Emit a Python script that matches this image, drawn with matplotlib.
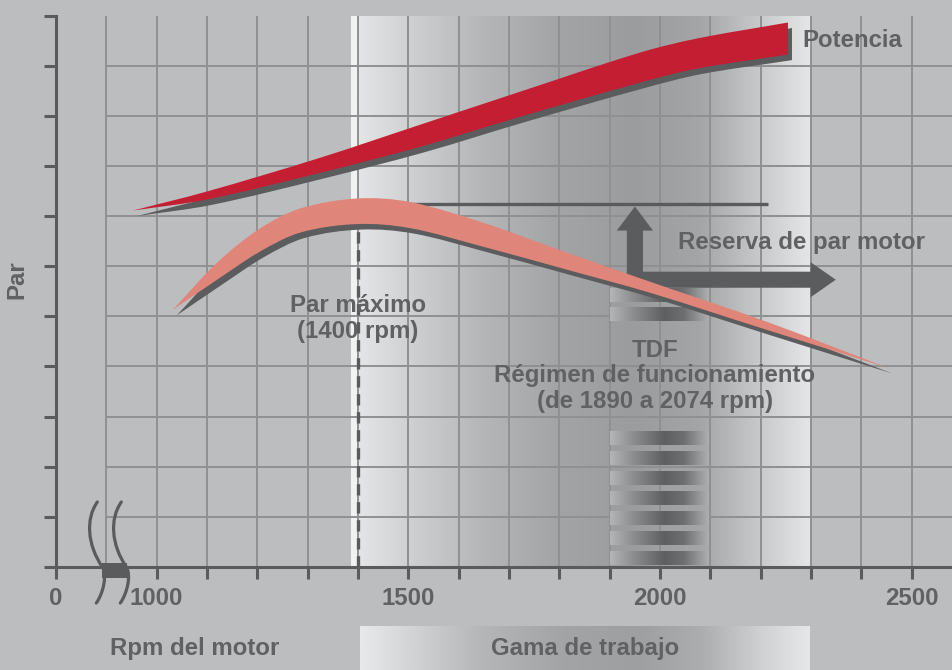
import numpy as np
import matplotlib
matplotlib.use("Agg")
import matplotlib.pyplot as plt
from matplotlib.path import Path
from matplotlib.patches import PathPatch, FancyArrow, Rectangle
from matplotlib.colors import LinearSegmentedColormap

plt.rcParams["font.family"] = ["Liberation Sans", "DejaVu Sans"]
plt.rcParams["font.weight"] = "bold"

# --- values (rpm, relative units) ---
POWER_RPM = [953, 1100, 1324, 1523, 1722, 1960, 2073, 2254]
POWER_TOP = [7.11, 7.49, 8.16, 8.82, 9.48, 10.26, 10.54, 10.86]
POWER_BOTTOM = [7.11, 7.33, 7.86, 8.38, 8.98, 9.66, 9.94, 10.22]

TORQUE_RPM = [1032, 1120, 1205, 1285, 1398, 1503, 1648, 1815, 1980, 2212, 2453]
TORQUE_TOP = [5.13, 6.07, 6.75, 7.15, 7.35, 7.28, 6.87, 6.27, 5.69, 4.89, 3.97]
TORQUE_BOTTOM = [5.13, 5.73, 6.29, 6.67, 6.84, 6.76, 6.39, 5.93, 5.47, 4.73, 3.97]

MAX_TORQUE_RPM = 1400
RESERVE_LEVEL = 7.25
RESERVE_END = 2214
WORK_RANGE = (1387, 2300)
TDF_RANGE = (1900, 2095)
TDF_STRIPES = [0.04, 0.44, 0.84, 1.24, 1.64, 2.04, 2.44, 4.91, 5.29]

X_ZERO = 800          # where the broken axis shows "0"
X_TICKS = [X_ZERO] + list(range(1000, 2501, 100))
X_LABELS = {X_ZERO: "0", 1000: "1000", 1500: "1500", 2000: "2000", 2500: "2500"}
Y_TICKS = list(range(0, 12))

# --- style ---
BG = "#bcbdbf"
GRID = "#8f9092"
AXIS = "#5a5b5d"
TEXT = "#606163"
RED = "#c41e33"
SALMON = "#e0857a"
SHADOW = "#5b5c5e"
FS = 17.3

W, H = 953, 670
PX_PER_RPM = 0.5034
XMAX = X_ZERO + 897 / PX_PER_RPM
YMAX = 11.0

zone_cmap = LinearSegmentedColormap.from_list("zone", [
    (0.0, "#f1f2f2"), (0.013, "#f1f2f2"), (0.0145, "#e4e5e6"),
    (0.124, "#d0d1d2"), (0.277, "#b6b7b9"), (0.452, "#a3a4a6"),
    (0.617, "#9b9c9e"), (0.759, "#a4a5a7"), (0.89, "#c8c9cb"),
    (1.0, "#e5e6e7")])
bar_cmap = LinearSegmentedColormap.from_list("bar", [
    (0.0, "#e8e9ea"), (0.27, "#b5b6b8"), (0.45, "#a3a4a6"),
    (0.62, "#9e9fa1"), (0.76, "#acadaf"), (0.89, "#cfd0d1"),
    (1.0, "#e6e7e8")])
stripe_cmap = LinearSegmentedColormap.from_list("stripe", [
    (0.0, "#b4b5b7"), (0.25, "#8a8b8d"), (0.55, "#5e5f61"),
    (0.75, "#6e6f71"), (1.0, "#aeafb1")])
ramp = np.linspace(0, 1, 512)[None, :]


def smooth_path(xs, ys):
    """Cubic Hermite curve through the points (x monotone), as bezier segments."""
    x = np.asarray(xs, float)
    y = np.asarray(ys, float)
    n = len(x)
    m = np.empty(n)
    m[1:-1] = (y[2:] - y[:-2]) / (x[2:] - x[:-2])
    m[0] = (y[1] - y[0]) / (x[1] - x[0])
    m[-1] = (y[-1] - y[-2]) / (x[-1] - x[-2])
    verts, codes = [(x[0], y[0])], [Path.MOVETO]
    for i in range(n - 1):
        h = (x[i + 1] - x[i]) / 3
        verts += [(x[i] + h, y[i] + m[i] * h),
                  (x[i + 1] - h, y[i + 1] - m[i + 1] * h),
                  (x[i + 1], y[i + 1])]
        codes += [Path.CURVE4] * 3
    return verts, codes


def band(xs, top, bottom, dx=0.0, dy=0.0):
    xs = np.asarray(xs, float) + dx
    v1, c1 = smooth_path(xs, np.asarray(top) + dy)
    v2, c2 = smooth_path(xs[::-1], np.asarray(bottom)[::-1] + dy)
    c2[0] = Path.LINETO
    verts = v1 + v2 + [v1[0]]
    codes = c1 + c2 + [Path.CLOSEPOLY]
    return Path(verts, codes)


fig = plt.figure(figsize=(W / 100, H / 100), dpi=100)
fig.patch.set_facecolor(BG)
ax = fig.add_axes([56 / W, 103 / H, 897 / W, 551.5 / H])
ax.set_facecolor(BG)

# working range gradient
ax.imshow(ramp, cmap=zone_cmap, aspect="auto", interpolation="bilinear",
          extent=[WORK_RANGE[0], WORK_RANGE[1], 0, YMAX], zorder=1)

# grid (starts after the axis break)
ax.vlines(range(900, 2501, 100), 0, YMAX, color=GRID, lw=1.4, zorder=2)
ax.hlines(range(1, 11), 900, XMAX, color=GRID, lw=1.4, zorder=2)

# TDF stripes
for b in TDF_STRIPES:
    ax.imshow(ramp, cmap=stripe_cmap, aspect="auto", interpolation="bilinear",
              extent=[TDF_RANGE[0], TDF_RANGE[1], b, b + 0.26], zorder=2.5)

# max torque marker and reserve line
ax.vlines(MAX_TORQUE_RPM, 0, max(TORQUE_BOTTOM), color=AXIS, lw=2.4,
          linestyles=(0, (3.4, 2.0)), zorder=3)
ax.hlines(RESERVE_LEVEL, MAX_TORQUE_RPM, RESERVE_END, color=AXIS, lw=2.4, zorder=3)

# reserve arrows
ax.add_patch(FancyArrow(1950, 5.57, 0, RESERVE_LEVEL - 0.06 - 5.57, width=32,
                        head_width=72, head_length=0.48, length_includes_head=True,
                        color=SHADOW, lw=0, zorder=4))
ax.add_patch(FancyArrow(1934, 5.73, 2349 - 1934, 0, width=0.32, head_width=0.70,
                        head_length=50, length_includes_head=True,
                        color=SHADOW, lw=0, zorder=4))

# power and torque bands with drop shadows
for xs, top, bot, col in [(POWER_RPM, POWER_TOP, POWER_BOTTOM, RED),
                          (TORQUE_RPM, TORQUE_TOP, TORQUE_BOTTOM, SALMON)]:
    ax.add_patch(PathPatch(band(xs, top, bot, dx=8, dy=-0.11),
                           facecolor=SHADOW, lw=0, zorder=5))
    ax.add_patch(PathPatch(band(xs, top, bot), facecolor=col, lw=0, zorder=5.5))

# axes
ax.set_xlim(X_ZERO, XMAX)
ax.set_ylim(0, YMAX)
for s in ["top", "right"]:
    ax.spines[s].set_visible(False)
for s in ["left", "bottom"]:
    ax.spines[s].set_color(AXIS)
    ax.spines[s].set_linewidth(2.2)
    ax.spines[s].set_zorder(6)
ax.set_xticks(X_TICKS)
ax.set_xticklabels([X_LABELS.get(t, "") for t in X_TICKS])
ax.set_yticks(Y_TICKS)
ax.tick_params(axis="x", length=8.6, width=2.2, color=AXIS, pad=6,
               labelsize=FS, labelcolor=TEXT)
ax.tick_params(axis="y", length=8.6, width=2.2, color=AXIS, labelleft=False)


# axis break symbol (pixel offsets around rpm 900 on the axis)
def off(dxp, dyp, x0=900):
    return (x0 + dxp / PX_PER_RPM, -dyp / (551.5 / YMAX))


for shift in (0, 24):
    pts = [(-9, -65), (-21, -48), (-19, -22), (-4, 0), (1, 8), (-3, 26), (-10, 36)]
    verts = [off(a + shift, b) for a, b in pts]
    codes = [Path.MOVETO] + [Path.CURVE4] * 6
    ax.add_patch(PathPatch(Path(verts, codes), fill=False, edgecolor=AXIS, lw=2.3,
                           capstyle="round", clip_on=False, zorder=7))
x0, y0 = off(-4, 11)
x1, y1 = off(21, -4)
ax.add_patch(Rectangle((x0, y0), x1 - x0, y1 - y0, facecolor=AXIS, lw=0,
                       clip_on=False, zorder=7))

# annotations
ax.text(2282, 10.5, "Potencia", ha="left", va="center", fontsize=FS, color=TEXT, zorder=8)
ax.text(2036, 6.47, "Reserva de par motor", ha="left", va="center", fontsize=FS,
        color=TEXT, zorder=8)
ax.text(MAX_TORQUE_RPM, 4.95, "Par máximo\n(1400 rpm)", ha="center", va="center",
        fontsize=FS, color=TEXT, linespacing=1.15, zorder=8)
ax.text(1990, 3.81, "TDF\nRégimen de funcionamiento\n(de 1890 a 2074 rpm)",
        ha="center", va="center", fontsize=FS, color=TEXT, linespacing=1.15, zorder=8)

fig.text(17 / W, 1 - 280 / H, "Par", rotation=90, ha="center", va="center",
         fontsize=FS, color=TEXT)
fig.text(195 / W, 1 - 648 / H, "Rpm del motor", ha="center", va="center",
         fontsize=FS, color=TEXT)

# "Gama de trabajo" bar
bar = fig.add_axes([360 / W, 0, 450 / W, 44 / H])
bar.imshow(ramp, cmap=bar_cmap, aspect="auto", interpolation="bilinear",
           extent=[0, 1, 0, 1])
bar.set_xlim(0, 1)
bar.set_ylim(0, 1)
bar.axis("off")
bar.text(0.5, 0.5, "Gama de trabajo", ha="center", va="center", fontsize=FS, color=TEXT)

fig.savefig("out.png", dpi=100, facecolor=BG)
